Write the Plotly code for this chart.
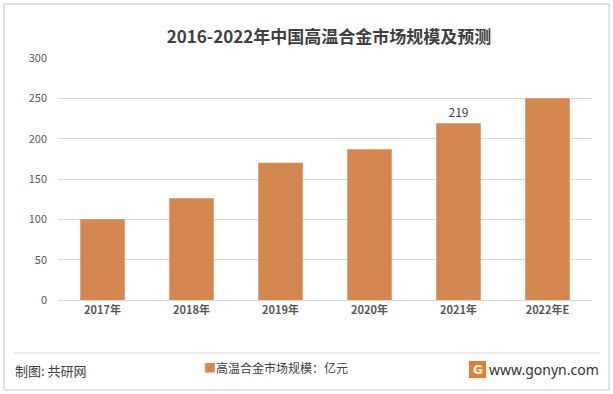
import plotly.graph_objects as go

categories = ["2017年", "2018年", "2019年", "2020年", "2021年", "2022年E"]
values = [100, 126, 170, 187, 219, 250]
labels = ["", "", "", "", "219", ""]
y_ticks = [0, 50, 100, 150, 200, 250, 300]

title = "2016-2022年中国高温合金市场规模及预测"
series_name = "高温合金市场规模：亿元"
source = "制图: 共研网"
site = "www.gonyn.com"

W, H = 613, 394
FONT = "Noto Sans CJK SC, Noto Sans, sans-serif"
L, R, T, B = 58, 592, 58, 300
PW, PH = R - L, B - T


def px(x):
    return (x - L) / PW


def py(y):
    return (B - y) / PH


fig = go.Figure()
fig.add_trace(go.Bar(
    x=categories, y=values, text=labels, textposition="outside",
    textfont=dict(size=12, color="#404040", family=FONT),
    marker=dict(color="#D4874E", line=dict(width=0)),
    width=0.5, cliponaxis=False, name=series_name, showlegend=False,
))

fig.update_layout(
    width=W, height=H,
    margin=dict(l=L, r=W - R, t=T, b=H - B),
    paper_bgcolor="white", plot_bgcolor="white",
    font=dict(family=FONT, color="#595959", size=11),
    title=dict(text=title, x=329 / W, xanchor="center", y=1 - 37 / H, yanchor="middle",
               font=dict(size=17, color="#404040", family=FONT, weight="bold")),
    xaxis=dict(showgrid=False, showline=True, linecolor="#D9D9D9", linewidth=1,
               ticks="", tickfont=dict(size=11, color="#595959", weight="bold"),
               fixedrange=True),
    yaxis=dict(range=[0, 300], tickvals=y_ticks, showgrid=True, gridcolor="#D9D9D9",
               gridwidth=1, zeroline=False, showline=False, ticks="",
               tickfont=dict(size=11, color="#595959"), ticklabelstandoff=10),
    shapes=[
        dict(type="rect", xref="paper", yref="paper", x0=px(4), x1=px(609),
             y0=py(390), y1=py(4),
             line=dict(color="#D9D9D9", width=1.5), layer="below"),
        dict(type="line", xref="paper", yref="paper", x0=px(13), x1=px(600),
             y0=py(353), y1=py(353),
             line=dict(color="#E3E3E3", width=1.5)),
        dict(type="rect", xref="paper", yref="paper", x0=px(469), x1=px(486),
             y0=py(378), y1=py(361),
             fillcolor="#EF7A2A", line=dict(width=0)),
    ],
    annotations=[
        dict(text=source, xref="paper", yref="paper", x=px(13), y=py(370),
             xanchor="left", yanchor="middle", showarrow=False,
             font=dict(size=13, color="#404040", family=FONT)),
        dict(text="<span style='color:#D4874E'>■</span>" + series_name, xref="paper", yref="paper",
             x=px(202), y=py(367), xanchor="left", yanchor="middle",
             showarrow=False, font=dict(size=12, color="#404040", family=FONT)),
        dict(text="<b>G</b>", xref="paper", yref="paper", x=px(477.5), y=py(369.5),
             xanchor="center", yanchor="middle", showarrow=False,
             font=dict(size=12, color="white", family="DejaVu Sans")),
        dict(text=site, xref="paper", yref="paper", x=px(601), y=py(369),
             xanchor="right", yanchor="middle", showarrow=False,
             font=dict(size=14, color="#333333", family="Noto Sans, DejaVu Sans")),
    ],
)

fig.write_html("out.html", config={"displayModeBar": False},
               post_script="document.body.style.margin='0';")
